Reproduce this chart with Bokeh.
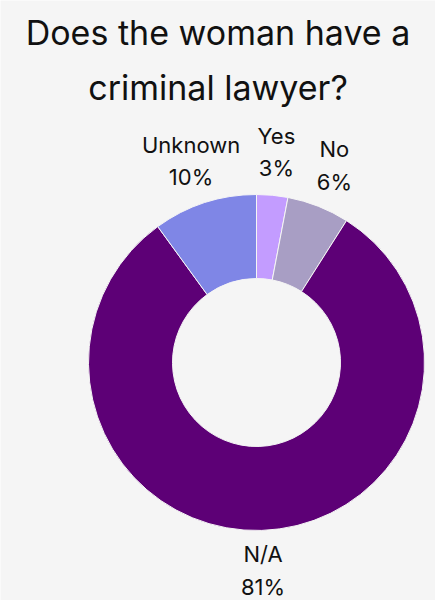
import numpy as np
from bokeh.plotting import figure
from bokeh.models import Range1d, Label, ColumnDataSource
from bokeh.core.properties import value
from bokeh.embed import file_html
from bokeh.resources import INLINE

title_lines = ["Does the woman have a", "criminal lawyer?"]
categories = ["Yes", "No", "N/A", "Unknown"]
shares = [3, 6, 81, 10]
colors = ["#c39cff", "#a89ec4", "#5d0076", "#7f86e6"]

FONT = "Inter"
BG = "#f5f5f5"

frac = np.array(shares, dtype=float) / sum(shares)
cum = np.concatenate([[0], np.cumsum(frac)])
start = np.pi / 2 - 2 * np.pi * cum[:-1]
end = np.pi / 2 - 2 * np.pi * cum[1:]
mid = (start + end) / 2

W, H = 435, 600
R_PX = 168.0
cx_px, cy_px = 256.0, 362.0

p = figure(width=W, height=H, output_backend="svg", toolbar_location=None,
           x_range=Range1d(-cx_px / R_PX, (W - cx_px) / R_PX),
           y_range=Range1d(-(H - cy_px) / R_PX, cy_px / R_PX),
           min_border=0, outline_line_color=None,
           background_fill_color=BG, border_fill_color=BG)
p.axis.visible = False
p.grid.visible = False

src = ColumnDataSource(dict(start=start, end=end, color=colors, cat=categories))
p.annular_wedge(x=0, y=0, inner_radius=0.5, outer_radius=1.0,
                start_angle="start", end_angle="end", direction="clock",
                fill_color="color", line_color=BG, line_width=1, source=src)

# label distance from centre; slightly tighter for labels below the ring so they stay in frame
r_lab = np.where(np.sin(mid) < 0, 1.24, 1.26)
lx = r_lab * np.cos(mid)
ly = r_lab * np.sin(mid)
lab_src = ColumnDataSource(dict(
    x=lx, y=ly,
    txt=[f"{c}\n{s}%" for c, s in zip(categories, shares)],
))
p.text(x="x", y="y", text="txt", source=lab_src, text_align="center",
       text_baseline="middle", text_font=value(FONT), text_font_size="22px",
       text_color="#111111", text_line_height=1.25)

for i, line in enumerate(title_lines):
    p.add_layout(Label(x=W / 2, y=H - 32 - 55 * i, x_units="screen", y_units="screen",
                       text=line, text_align="center", text_baseline="alphabetic",
                       text_font=FONT, text_font_size="34px", text_color="#111111"))

open("out.html", "w").write(file_html(p, INLINE))
